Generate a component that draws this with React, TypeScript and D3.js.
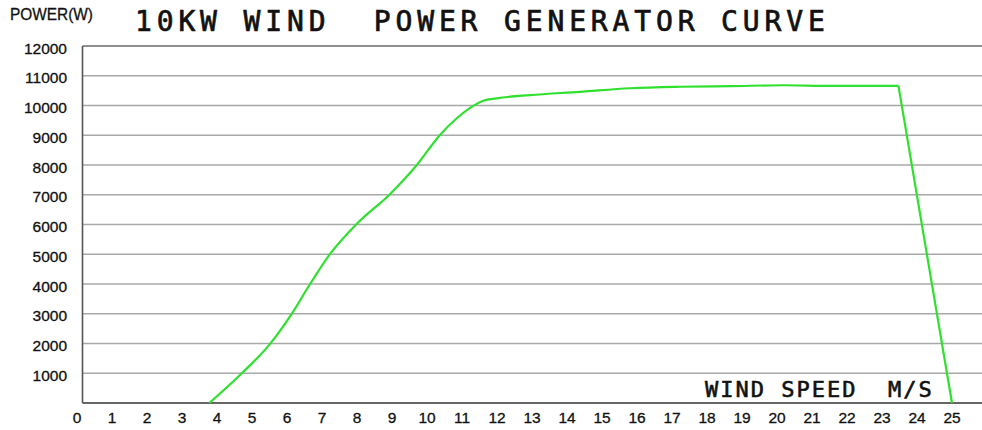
import React from "react";
import * as d3 from "d3";

const TITLE = "10KW WIND  POWER GENERATOR CURVE";
const Y_LABEL = "POWER(W)";
const X_LABEL = "WIND SPEED  M/S";

const yTicks = [1000, 2000, 3000, 4000, 5000, 6000, 7000, 8000, 9000, 10000, 11000, 12000];
const xTicks = d3.range(0, 26);

const windSpeed = [3.78, 4.71, 5.51, 6.13, 6.66, 7.23, 7.99, 8.94, 9.71, 10.37, 10.85, 11.37, 11.61, 11.99, 12.94, 14.37, 15.8, 17.23, 18.66, 20.2, 21.5, 23.47, 25];
const power = [0, 1000, 1980, 2990, 4000, 5010, 6020, 7020, 8000, 9010, 9570, 10020, 10160, 10240, 10350, 10460, 10580, 10630, 10650, 10680, 10660, 10660, 0];

const W = 982;
const H = 430;

export default function App() {
  const x = d3.scaleLinear().domain([0, 25]).range([77, 952]);
  const y = d3.scaleLinear().domain([0, 12000]).range([403, 46]);
  const plotLeft = 82.5;

  const pts: [number, number][] = windSpeed.map((s, i) => [s, power[i]]);
  const rising = pts.slice(0, pts.length - 1);
  const drop = pts.slice(pts.length - 2);

  const smooth = d3
    .line<[number, number]>()
    .x((d) => x(d[0]))
    .y((d) => y(d[1]))
    .curve(d3.curveMonotoneX);
  const straight = d3
    .line<[number, number]>()
    .x((d) => x(d[0]))
    .y((d) => y(d[1]));

  return (
    <svg
      width={W}
      height={H}
      style={{ position: "absolute", left: 0, top: 0, background: "#fff" }}
    >
      <rect x={0} y={0} width={W} height={H} fill="#fff" />
      {/* grid lines */}
      {yTicks.map((t) => (
        <line
          key={t}
          x1={plotLeft}
          x2={W}
          y1={y(t)}
          y2={y(t)}
          stroke={t === 12000 ? "#8f8f8f" : "#a8a8a8"}
          strokeWidth={t === 12000 ? 2 : 1.6}
        />
      ))}
      {/* axes */}
      <line x1={plotLeft} x2={plotLeft} y1={y(12000)} y2={y(0)} stroke="#555" strokeWidth={1.6} />
      <line x1={plotLeft} x2={W} y1={y(0)} y2={y(0)} stroke="#666" strokeWidth={2} />

      {/* y tick labels */}
      {yTicks.map((t) => (
        <text
          key={t}
          x={67}
          y={y(t) + 7.5}
          textAnchor="end"
          fontFamily="'Liberation Sans', Arial, sans-serif"
          fontSize={15.5}
          fill="#111"
          stroke="#111"
          strokeWidth={0.3}
        >
          {t}
        </text>
      ))}
      {/* x tick labels */}
      {xTicks.map((t) => (
        <text
          key={t}
          x={x(t)}
          y={423}
          textAnchor="middle"
          fontFamily="'Liberation Sans', Arial, sans-serif"
          fontSize={15.5}
          fill="#111"
          stroke="#111"
          strokeWidth={0.3}
        >
          {t}
        </text>
      ))}

      {/* curve */}
      <path d={smooth(rising) || ""} fill="none" stroke="#2fe02f" strokeWidth={2.2} strokeLinejoin="round" />
      <path d={straight(drop) || ""} fill="none" stroke="#2fe02f" strokeWidth={2.2} strokeLinejoin="round" />

      {/* titles */}
      <text
        x={135}
        y={31}
        fontFamily="'DejaVu Sans Mono', monospace"
        fontSize={28}
        letterSpacing={4.85}
        fill="#111"
        stroke="#111"
        strokeWidth={0.7}
        style={{ whiteSpace: "pre" }}
      >
        {TITLE}
      </text>
      <text
        x={10}
        y={20}
        fontFamily="'Liberation Sans', Arial, sans-serif"
        fontSize={16}
        textLength={83}
        lengthAdjust="spacingAndGlyphs"
        fill="#111"
        stroke="#111"
        strokeWidth={0.3}
      >
        {Y_LABEL}
      </text>
      <text
        x={705}
        y={397}
        fontFamily="'DejaVu Sans Mono', monospace"
        fontSize={22}
        letterSpacing={2}
        fill="#111"
        stroke="#111"
        strokeWidth={0.6}
        style={{ whiteSpace: "pre" }}
      >
        {X_LABEL}
      </text>
    </svg>
  );
}
